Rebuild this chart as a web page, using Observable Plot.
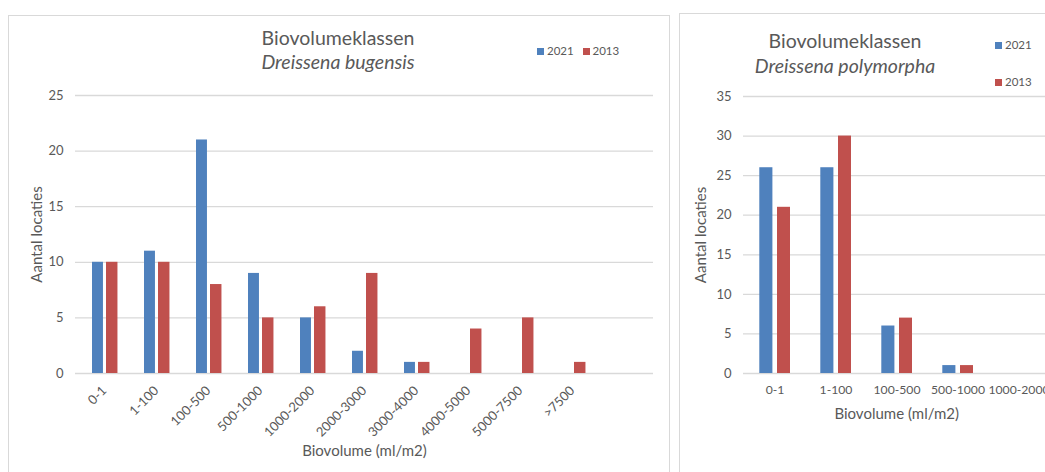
<!DOCTYPE html>
<html><head><meta charset="utf-8">
<script src="https://cdn.jsdelivr.net/npm/d3@7"></script>
<script src="https://cdn.jsdelivr.net/npm/@observablehq/plot@0.6"></script>
<style>
html,body{margin:0;padding:0;background:#fff;}
body{width:1045px;height:472px;overflow:hidden;position:relative;font-family:Lato,sans-serif;color:#595959;}
.panel{position:absolute;border:1px solid #d9d9d9;box-sizing:border-box;}
.t{position:absolute;white-space:nowrap;line-height:1;}
.title{font-size:19.5px;transform:translateX(-50%);}
.sub{font-size:19.5px;font-style:italic;transform:translateX(-50%);}
.leg{font-size:11.5px;}
.sw{display:inline-block;width:7px;height:7px;margin-right:3px;vertical-align:0px;}
.chart{position:absolute;top:0;width:800px;}
.chart svg{max-width:none !important;}
.chart g[aria-label="x-axis label"] text, .chart g[aria-label="y-axis label"] text{font-size:15px;}
#c2 g[aria-label="x-axis tick label"] text{font-size:12.2px;}
</style></head>
<body>
<div class="panel" style="left:8px;top:15px;width:662px;height:480px;"></div>
<div class="panel" style="left:679px;top:13px;width:420px;height:480px;"></div>
<div id="c1" class="chart" style="left:0px;"></div>
<div id="c2" class="chart" style="left:680px;"></div>
<div class="t title" style="left:338px;top:28px;">Biovolumeklassen</div>
<div class="t sub" style="left:338px;top:52px;">Dreissena bugensis</div>
<div class="t leg" style="left:537px;top:45px;"><span class="sw" style="background:#4f81bd"></span>2021&nbsp;&nbsp;&nbsp;<span class="sw" style="background:#c0504d"></span>2013</div>
<div class="t title" style="left:845px;top:31px;">Biovolumeklassen</div>
<div class="t sub" style="left:845px;top:56px;">Dreissena polymorpha</div>
<div class="t leg" style="left:995px;top:39px;"><span class="sw" style="background:#4f81bd"></span>2021</div>
<div class="t leg" style="left:995px;top:76px;"><span class="sw" style="background:#c0504d"></span>2013</div>
<script>
// ---- data ----
const categories = ["0-1","1-100","100-500","500-1000","1000-2000","2000-3000","3000-4000","4000-5000","5000-7500",">7500"];
const bugensis2021 = [10,11,21,9,5,2,1,0,0,0];
const bugensis2013 = [10,10,8,5,6,9,1,4,5,1];
const polyCategories = ["0-1","1-100","100-500","500-1000","1000-2000"];
const polymorpha2021 = [26,26,6,1,0];
const polymorpha2013 = [21,30,7,1,0];
const yTicksBugensis = [0,5,10,15,20,25];
const yTicksPolymorpha = [0,5,10,15,20,25,30,35];
const xLabel = "Biovolume (ml/m2)";
const yLabel = "Aantal locaties";

const BLUE = "#4f81bd", RED = "#c0504d", GRID = "#d9d9d9", TEXT = "#595959";

function rows(cats, vals){ return cats.map((c,i)=>({cat:c, v:vals[i]})); }

// Left chart
const domL = categories.concat([""]);
const bw1 = 578/11;
const c1 = Plot.plot({
  width: 668, height: 472,
  marginLeft: 75, marginRight: 15, marginTop: 95, marginBottom: 99,
  style: {fontFamily: "Lato, sans-serif", fontSize: "13px", color: TEXT, background: "transparent"},
  x: {type: "band", domain: domL, padding: 0, tickSize: 0, tickPadding: 15, tickRotate: -45,
      label: xLabel, labelArrow: "none", labelAnchor: "center", labelOffset: 82},
  y: {domain: [0,25], ticks: yTicksBugensis, tickSize: 0, tickPadding: 12,
      label: yLabel, labelArrow: "none", labelAnchor: "center", labelOffset: 44},
  marks: [
    Plot.ruleY(yTicksBugensis, {stroke: GRID, strokeWidth: 1.3}),
    Plot.barY(rows(categories, bugensis2021), {x: "cat", y: "v", fill: BLUE, insetLeft: 14, insetRight: bw1-25.5}),
    Plot.barY(rows(categories, bugensis2013), {x: "cat", y: "v", fill: RED, insetLeft: 28, insetRight: bw1-40})
  ]
});
document.getElementById("c1").appendChild(c1);

// Right chart (cropped on the right like the reference)
const bw2 = 61.3;
const c2 = Plot.plot({
  width: 63 + polyCategories.length*bw2, height: 472,
  marginLeft: 63, marginRight: 0, marginTop: 96, marginBottom: 99,
  style: {fontFamily: "Lato, sans-serif", fontSize: "13px", color: TEXT, background: "transparent"},
  x: {type: "band", domain: polyCategories, padding: 0, tickSize: 0, tickPadding: 12,
      label: xLabel, labelArrow: "none", labelAnchor: "center", labelOffset: 45},
  y: {domain: [0,35], ticks: yTicksPolymorpha, tickSize: 0, tickPadding: 12,
      label: yLabel, labelArrow: "none", labelAnchor: "center", labelOffset: 48},
  marks: [
    Plot.ruleY(yTicksPolymorpha, {stroke: GRID, strokeWidth: 1.3}),
    Plot.barY(rows(polyCategories, polymorpha2021), {x: "cat", y: "v", fill: BLUE, insetLeft: 15.3, insetRight: bw2-28.7}),
    Plot.barY(rows(polyCategories, polymorpha2013), {x: "cat", y: "v", fill: RED, insetLeft: 33, insetRight: bw2-46.3})
  ]
});
document.getElementById("c2").appendChild(c2);
</script>
</body></html>
